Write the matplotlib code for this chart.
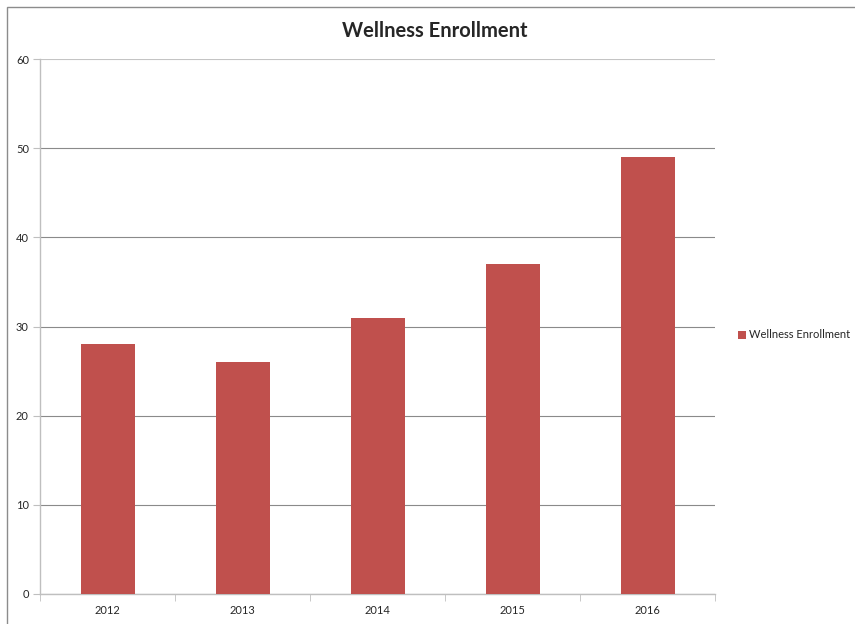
import matplotlib.pyplot as plt
from matplotlib.patches import Rectangle
import numpy as np

years = ['2012', '2013', '2014', '2015', '2016']
enrollment = [28, 26, 31, 37, 49]
y_ticks = [0, 10, 20, 30, 40, 50, 60]

plt.rcParams['font.family'] = ['Lato', 'DejaVu Sans']

fig = plt.figure(figsize=(8.55, 6.24), dpi=100)
ax = fig.add_axes([40 / 855, 1 - 594 / 624, 675 / 855, 535 / 624])

x = np.arange(len(years))
ax.bar(x, enrollment, width=0.4, color='#C0504D', zorder=3,
       label='Wellness Enrollment')

ax.set_xlim(-0.5, len(years) - 0.5)
ax.set_ylim(0, 60)
ax.set_yticks(y_ticks)
ax.set_yticklabels([str(t) for t in y_ticks], fontsize=8, color='#262626')
ax.yaxis.grid(True, color='#8A8A8A', linewidth=0.8, zorder=0)
# top gridline is drawn lighter, like the axis lines
ax.yaxis.get_gridlines()[-1].set_color('#C4C4C4')

# category labels sit between boundary tick marks
ax.set_xticks(x)
ax.set_xticklabels(years, fontsize=8, color='#262626')
ax.tick_params(axis='x', length=0, pad=8)
ax.set_xticks(np.arange(len(years) + 1) - 0.5, minor=True)
ax.tick_params(axis='x', which='minor', length=5, color='#BFBFBF')
ax.tick_params(axis='y', length=5, color='#BFBFBF', pad=3)

for side in ['top', 'right']:
    ax.spines[side].set_visible(False)
for side in ['left', 'bottom']:
    ax.spines[side].set_color('#BFBFBF')
    ax.spines[side].set_linewidth(1.0)

fig.text(435 / 855, 1 - 31 / 624, 'Wellness Enrollment', ha='center',
         va='center', fontsize=14.5, fontweight='bold', color='#262626')

leg = fig.legend(loc='center left', bbox_to_anchor=(728 / 855, 1 - 335 / 624),
                 frameon=False, fontsize=8, handlelength=0.7, handleheight=0.7,
                 handletextpad=0.3)
for t in leg.get_texts():
    t.set_color('#262626')

# chart border
fig.patches.append(Rectangle((7 / 855, -0.01), 1.0, 1 - 7 / 624 + 0.01,
                             transform=fig.transFigure, fill=False,
                             edgecolor='#8C8C8C', linewidth=1.0))

fig.savefig('out.png', dpi=100)
